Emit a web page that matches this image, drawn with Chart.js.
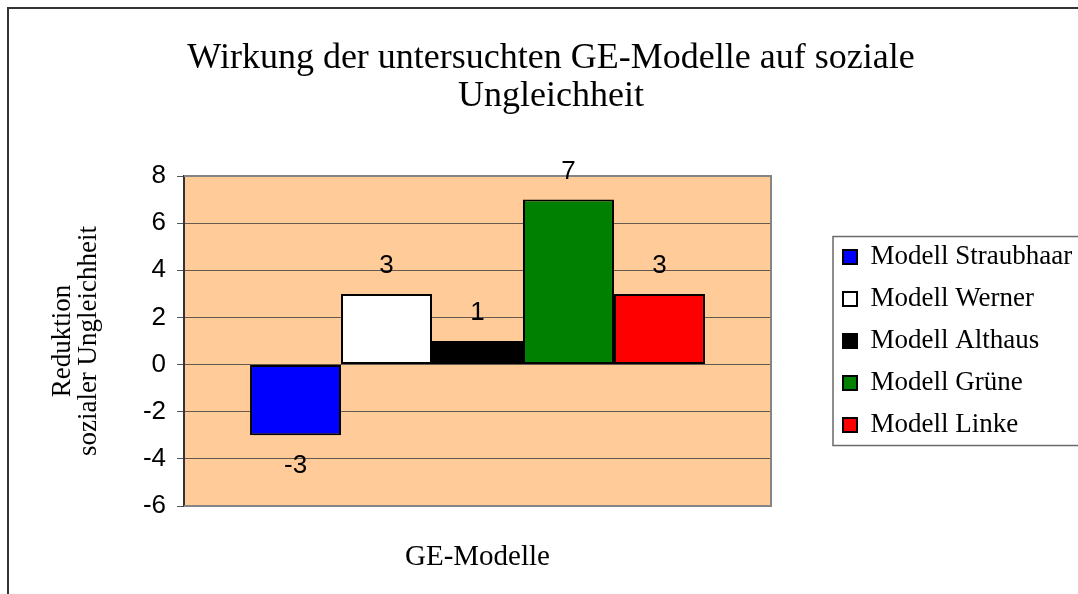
<!DOCTYPE html>
<html>
<head>
<meta charset="utf-8">
<script src="https://cdn.jsdelivr.net/npm/chart.js@4.4.0/dist/chart.umd.min.js"></script>
<style>
  html, body { margin: 0; padding: 0; background: #fff; }
  #wrap { width: 1078px; height: 594px; }
</style>
</head>
<body>
<div id="wrap"><canvas id="chart"></canvas></div>
<script>
const categories = ['GE-Modelle']
const seriesNames = ['Modell Straubhaar', 'Modell Werner', 'Modell Althaus', 'Modell Grüne', 'Modell Linke']
const seriesValues = [-3, 3, 1, 7, 3]
const seriesColors = ['#0000ff', '#ffffff', '#000000', '#008000', '#ff0000']
const yTicks = [-6, -4, -2, 0, 2, 4, 6, 8]

const serif = '"Liberation Serif", "Times New Roman", serif'
const sans = '"Liberation Sans", Arial, sans-serif'

// background, frame, value labels, legend box
const chartDecor = {
    id: 'chartDecor',
    beforeInit(chart) {
        const fit = chart.legend.fit
        chart.legend.fit = function () {
            fit.call(this)
            this.width = 250
        }
    },
    beforeDraw(chart) {
        const {ctx, chartArea: a} = chart
        ctx.save()
        ctx.fillStyle = '#ffcc99'
        ctx.fillRect(a.left, a.top, a.right - a.left, a.bottom - a.top)
        ctx.restore()
    },
    beforeDatasetsDraw(chart) {
        const {ctx, chartArea: a} = chart
        ctx.save()
        ctx.strokeStyle = '#858585'
        ctx.lineWidth = 2
        ctx.beginPath()
        ctx.moveTo(a.left, a.top)
        ctx.lineTo(a.right, a.top)
        ctx.lineTo(a.right, a.bottom)
        ctx.lineTo(a.left, a.bottom)
        ctx.stroke()
        ctx.restore()
    },
    afterDatasetsDraw(chart) {
        const ctx = chart.ctx
        ctx.save()
        ctx.fillStyle = '#000'
        ctx.font = '26px ' + sans
        ctx.textAlign = 'center'
        ctx.textBaseline = 'middle'
        chart.data.datasets.forEach((ds, i) => {
            const bar = chart.getDatasetMeta(i).data[0]
            const v = ds.data[0]
            const y = v >= 0 ? bar.y - 28 : bar.y + 31
            ctx.fillText(String(v), bar.x, y)
        })
        ctx.restore()
    },
    afterDraw(chart) {
        const ctx = chart.ctx
        const hb = chart.legend.legendHitBoxes
        ctx.save()
        // legend frame
        ctx.strokeStyle = '#6a6a6a'
        ctx.lineWidth = 1.5
        const top = hb[0].top - 7
        const bottom = hb[hb.length - 1].top + hb[hb.length - 1].height + 7
        ctx.strokeRect(chart.legend.left + 5, top, 300, bottom - top)
        // outer border
        ctx.strokeStyle = '#333'
        ctx.lineWidth = 2
        ctx.beginPath()
        ctx.moveTo(8, 700)
        ctx.lineTo(8, 8)
        ctx.lineTo(1100, 8)
        ctx.stroke()
        ctx.restore()
    }
}

const ctx = document.getElementById('chart').getContext('2d')

new Chart(ctx, {
    type: 'bar',
    data: {
        labels: categories,
        datasets: seriesNames.map((name, i) => ({
            label: name,
            data: [seriesValues[i]],
            backgroundColor: seriesColors[i],
            borderColor: '#000',
            borderWidth: 2,
            borderSkipped: false,
            barPercentage: 1,
            categoryPercentage: 0.775
        }))
    },
    options: {
        responsive: true,
        maintainAspectRatio: false,
        animation: false,
        layout: {
            padding: { left: 24, right: 0, top: 0, bottom: 0 }
        },
        scales: {
            x: {
                grid: { display: false },
                border: { display: false },
                ticks: { display: false },
                title: {
                    display: true,
                    text: categories[0],
                    color: '#000',
                    font: { family: serif, size: 29 },
                    padding: { top: 0, bottom: 19 }
                },
                afterFit(s) { s.height = 88 }
            },
            y: {
                min: yTicks[0],
                max: yTicks[yTicks.length - 1],
                ticks: {
                    stepSize: yTicks[1] - yTicks[0],
                    color: '#000',
                    padding: 11,
                    font: { family: sans, size: 26 }
                },
                grid: {
                    color: '#665a4e',
                    lineWidth: 1,
                    tickLength: 7,
                    tickColor: '#555'
                },
                border: { color: '#333', width: 2 },
                title: {
                    display: true,
                    text: ['Reduktion', 'sozialer Ungleichheit'],
                    color: '#000',
                    font: { family: serif, size: 27, lineHeight: 0.97 },
                    padding: { top: 26, bottom: 0 }
                },
                afterFit(s) { s.width = 160 }
            },
            gap: {
                type: 'linear',
                position: 'right',
                grid: { display: false },
                border: { display: false },
                ticks: { display: false },
                afterFit(s) { s.width = 57 }
            }
        },
        plugins: {
            title: {
                display: true,
                text: ['Wirkung der untersuchten GE-Modelle auf soziale', 'Ungleichheit'],
                color: '#000',
                font: { family: serif, size: 36, weight: 'normal', lineHeight: 1.056 },
                padding: { top: 40, bottom: 60 }
            },
            legend: {
                position: 'right',
                fullSize: false,
                labels: {
                    color: '#000',
                    boxWidth: 14,
                    boxHeight: 14,
                    padding: 15,
                    font: { family: serif, size: 27 }
                }
            },
            tooltip: { enabled: false }
        }
    },
    plugins: [chartDecor]
})
</script>
</body>
</html>
